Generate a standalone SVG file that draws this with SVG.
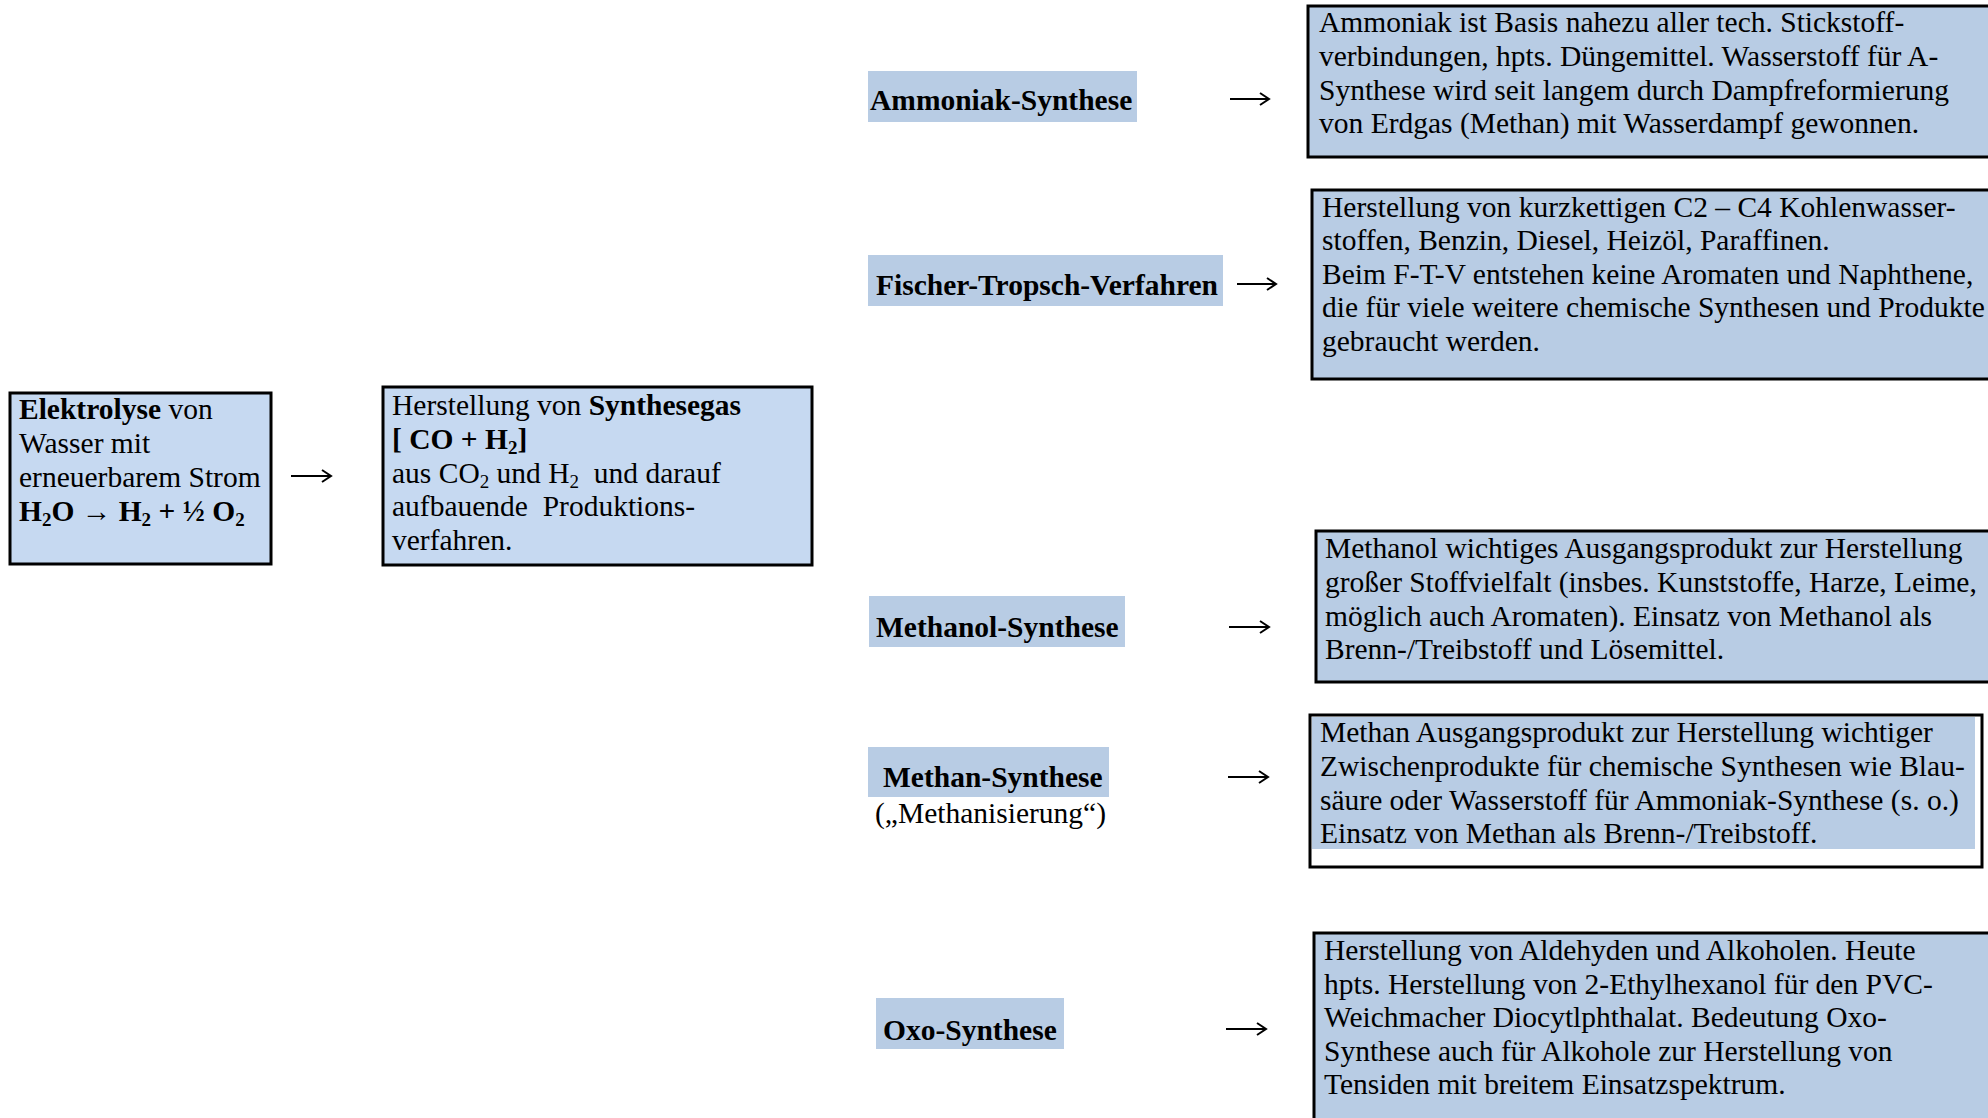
<svg xmlns="http://www.w3.org/2000/svg" width="1988" height="1118" viewBox="0 0 1988 1118">
<style>
.box{stroke:#000;stroke-width:3}
.fa{fill:#c6d9f1}
.fb{fill:#b8cce4}
.t{font-family:"Liberation Serif","Times New Roman",serif;font-size:29.5px;fill:#000}
.b{font-weight:bold}
.s{font-size:19px}
.arr{stroke:#000;stroke-width:2;fill:none}
</style>
<rect width="1988" height="1118" fill="#fff"/>

<g id="elektrolyse">
<rect class="box fa" x="10" y="393" width="261" height="171"/>
<text class="t" x="19" y="419"><tspan class="b">Elektrolyse</tspan> von</text>
<text class="t" x="19" y="453">Wasser mit</text>
<text class="t" x="19" y="487">erneuerbarem Strom</text>
<text class="t b" x="19" y="521">H<tspan class="s" dy="5">2</tspan><tspan dy="-5">O → H</tspan><tspan class="s" dy="5">2</tspan><tspan dy="-5"> + ½ O</tspan><tspan class="s" dy="5">2</tspan></text>
</g>

<g id="synthesegas">
<rect class="box fa" x="383" y="387" width="429" height="178"/>
<text class="t" x="392" y="415">Herstellung von <tspan class="b">Synthesegas</tspan></text>
<text class="t b" x="392" y="449">[ CO + H<tspan class="s" dy="5">2</tspan><tspan dy="-5">]</tspan></text>
<text class="t" x="392" y="483" xml:space="preserve">aus CO<tspan class="s" dy="5">2</tspan><tspan dy="-5"> und H</tspan><tspan class="s" dy="5">2</tspan><tspan dy="-5">  und darauf</tspan></text>
<text class="t" x="392" y="516" xml:space="preserve">aufbauende  Produktions-</text>
<text class="t" x="392" y="550">verfahren.</text>
</g>

<g id="ammoniak-label">
<rect class="fb" x="868" y="71" width="269" height="51"/>
<text class="t b" x="870" y="110">Ammoniak-Synthese</text>
</g>
<g id="ammoniak-desc">
<rect class="box fb" x="1308" y="6" width="700" height="151"/>
<text class="t" x="1319" y="32">Ammoniak ist Basis nahezu aller tech. Stickstoff-</text>
<text class="t" x="1319" y="66">verbindungen, hpts. Düngemittel. Wasserstoff für A-</text>
<text class="t" x="1319" y="100">Synthese wird seit langem durch Dampfreformierung</text>
<text class="t" x="1319" y="133">von Erdgas (Methan) mit Wasserdampf gewonnen.</text>
</g>

<g id="ftv-label">
<rect class="fb" x="868" y="255" width="355" height="51"/>
<text class="t b" x="876" y="295">Fischer-Tropsch-Verfahren</text>
</g>
<g id="ftv-desc">
<rect class="box fb" x="1312" y="190" width="700" height="189"/>
<text class="t" x="1322" y="217">Herstellung von kurzkettigen C2 – C4 Kohlenwasser-</text>
<text class="t" x="1322" y="250">stoffen, Benzin, Diesel, Heizöl, Paraffinen.</text>
<text class="t" x="1322" y="284">Beim F-T-V entstehen keine Aromaten und Naphthene,</text>
<text class="t" x="1322" y="317">die für viele weitere chemische Synthesen und Produkte</text>
<text class="t" x="1322" y="351">gebraucht werden.</text>
</g>

<g id="methanol-label">
<rect class="fb" x="869" y="596" width="256" height="51"/>
<text class="t b" x="876" y="637">Methanol-Synthese</text>
</g>
<g id="methanol-desc">
<rect class="box fb" x="1316" y="531" width="700" height="151"/>
<text class="t" x="1325" y="558">Methanol wichtiges Ausgangsprodukt zur Herstellung</text>
<text class="t" x="1325" y="592">großer Stoffvielfalt (insbes. Kunststoffe, Harze, Leime,</text>
<text class="t" x="1325" y="626">möglich auch Aromaten). Einsatz von Methanol als</text>
<text class="t" x="1325" y="659">Brenn-/Treibstoff und Lösemittel.</text>
</g>

<g id="methan-label">
<rect class="fb" x="868" y="747" width="241" height="50"/>
<text class="t b" x="883" y="787">Methan-Synthese</text>
<text class="t" x="875" y="823">(„Methanisierung“)</text>
</g>
<g id="methan-desc">
<rect class="box" fill="#fff" x="1310" y="715" width="672" height="152"/>
<rect class="fb" x="1312" y="717" width="663" height="132"/>
<text class="t" x="1320" y="742">Methan Ausgangsprodukt zur Herstellung wichtiger</text>
<text class="t" x="1320" y="776">Zwischenprodukte für chemische Synthesen wie Blau-</text>
<text class="t" x="1320" y="810">säure oder Wasserstoff für Ammoniak-Synthese (s. o.)</text>
<text class="t" x="1320" y="843">Einsatz von Methan als Brenn-/Treibstoff.</text>
</g>

<g id="oxo-label">
<rect class="fb" x="876" y="998" width="188" height="51"/>
<text class="t b" x="883" y="1040">Oxo-Synthese</text>
</g>
<g id="oxo-desc">
<rect class="box fb" x="1314" y="933" width="700" height="200"/>
<text class="t" x="1324" y="960">Herstellung von Aldehyden und Alkoholen. Heute</text>
<text class="t" x="1324" y="994">hpts. Herstellung von 2-Ethylhexanol für den PVC-</text>
<text class="t" x="1324" y="1027">Weichmacher Diocytlphthalat. Bedeutung Oxo-</text>
<text class="t" x="1324" y="1061">Synthese auch für Alkohole zur Herstellung von</text>
<text class="t" x="1324" y="1094">Tensiden mit breitem Einsatzspektrum.</text>
</g>

<g id="connectors">
<path class="arr" d="M291 476H331M322 470L331 476L322 482"/>
<path class="arr" d="M1230 99H1269M1260 93L1269 99L1260 105"/>
<path class="arr" d="M1237 284H1276M1267 278L1276 284L1267 290"/>
<path class="arr" d="M1229 627H1269M1260 621L1269 627L1260 633"/>
<path class="arr" d="M1228 777H1268M1259 771L1268 777L1259 783"/>
<path class="arr" d="M1226 1029H1266M1257 1023L1266 1029L1257 1035"/>
</g>
</svg>
